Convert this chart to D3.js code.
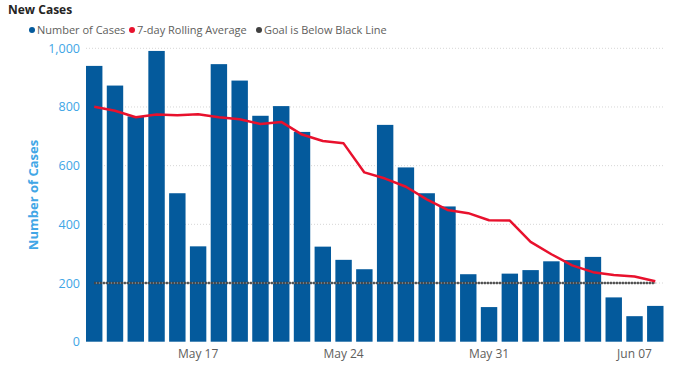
<!DOCTYPE html>
<html>
<head>
<meta charset="utf-8">
<script src="https://cdn.jsdelivr.net/npm/d3@7"></script>
<style>
  body { margin: 0; background: #fff; }
  svg { display: block; font-family: 'Open Sans', sans-serif; }
</style>
</head>
<body>
<svg id="chart"></svg>
<script>
const width = 680;
const height = 367;

// data
const dates = ['May 12', 'May 13', 'May 14', 'May 15', 'May 16', 'May 17', 'May 18',
  'May 19', 'May 20', 'May 21', 'May 22', 'May 23', 'May 24', 'May 25', 'May 26',
  'May 27', 'May 28', 'May 29', 'May 30', 'May 31', 'Jun 01', 'Jun 02', 'Jun 03',
  'Jun 04', 'Jun 05', 'Jun 06', 'Jun 07', 'Jun 08'];
const cases = [940, 873, 768, 991, 506, 325, 946, 890, 770, 803, 715, 324, 279, 247,
  739, 594, 506, 461, 230, 118, 232, 244, 274, 278, 289, 151, 87, 122];
const rolling = [801, 787, 765, 774, 772, 775, 765, 758, 742, 749, 706, 684, 676, 577,
  556, 528, 485, 449, 438, 414, 413, 340, 298, 260, 237, 227, 222, 206];
const goal = [200, 200, 200, 200, 200, 200, 200, 200, 200, 200, 200, 200, 200, 200,
  200, 200, 200, 200, 200, 200, 200, 200, 200, 200, 200, 200, 200, 200];
const yTicks = [0, 200, 400, 600, 800, 1000];
const xTickLabels = ['May 17', 'May 24', 'May 31', 'Jun 07'];

const svg = d3.select('#chart').attr('width', width).attr('height', height);

const x = d3.scaleBand().domain(dates).range([86, 663.5]).paddingInner(0.21).paddingOuter(0);
const y = d3.scaleLinear().domain([0, 1000]).range([341.7, 48.3]);
const cx = d => x(d) + x.bandwidth() / 2;

// title
svg.append('text')
  .attr('x', 8).attr('y', 14)
  .attr('font-size', 12).attr('font-weight', 700).attr('fill', '#252423')
  .text('New Cases');

// legend
const legend = [
  {name: 'Number of Cases', color: '#045A9C', x: 32},
  {name: '7-day Rolling Average', color: '#E8112D', x: 132},
  {name: 'Goal is Below Black Line', color: '#404040', x: 259}
];
const lg = svg.append('g').selectAll('g').data(legend).enter().append('g');
lg.append('circle').attr('cx', d => d.x).attr('cy', 30).attr('r', 3).attr('fill', d => d.color);
lg.append('text').attr('x', d => d.x + 5).attr('y', 34)
  .attr('font-size', 11).attr('fill', '#605E5C').text(d => d.name);

// gridlines
svg.append('g').selectAll('line').data(yTicks.filter(t => t > 0)).enter().append('line')
  .attr('x1', 86).attr('x2', 663.5)
  .attr('y1', d => y(d)).attr('y2', d => y(d))
  .attr('stroke', '#d6d6d6').attr('stroke-width', 1).attr('stroke-dasharray', '1,2');

// y axis
const yAxis = svg.append('g').attr('transform', 'translate(80,0)')
  .call(d3.axisLeft(y).tickValues(yTicks).tickSize(0).tickPadding(0).tickFormat(d3.format(',')));
yAxis.select('.domain').remove();
yAxis.selectAll('text').attr('font-size', 12.5).attr('fill', '#41A6E6')
  .attr('font-family', 'Open Sans, sans-serif');

svg.append('text')
  .attr('transform', 'translate(38,195) rotate(-90)')
  .attr('text-anchor', 'middle')
  .attr('font-size', 13).attr('font-weight', 700).attr('fill', '#41A6E6')
  .text('Number of Cases');

// x axis
const xAxis = svg.append('g').attr('transform', 'translate(0,341.7)')
  .call(d3.axisBottom(x).tickValues(xTickLabels).tickSize(0).tickPadding(8));
xAxis.select('.domain').remove();
xAxis.selectAll('text').attr('font-size', 12).attr('fill', '#605E5C')
  .attr('font-family', 'Open Sans, sans-serif');

// bars
svg.append('g').selectAll('rect').data(cases).enter().append('rect')
  .attr('x', (d, i) => x(dates[i]))
  .attr('y', d => y(d))
  .attr('width', x.bandwidth())
  .attr('height', d => y(0) - y(d))
  .attr('fill', '#045A9C');

// goal line
const goalLine = d3.line().x((d, i) => cx(dates[i])).y(d => y(d));
svg.append('path').datum(goal)
  .attr('d', goalLine).attr('fill', 'none')
  .attr('stroke', '#8a8a8a').attr('stroke-width', 1.5);
svg.append('path').datum(goal)
  .attr('d', goalLine).attr('fill', 'none')
  .attr('stroke', '#3a3a3a').attr('stroke-width', 2.5).attr('stroke-dasharray', '1.5,1.5');

// rolling average
svg.append('path').datum(rolling)
  .attr('d', d3.line().x((d, i) => cx(dates[i])).y(d => y(d)))
  .attr('fill', 'none')
  .attr('stroke', '#E8112D').attr('stroke-width', 2.5)
  .attr('stroke-linejoin', 'round');
</script>
</body>
</html>
